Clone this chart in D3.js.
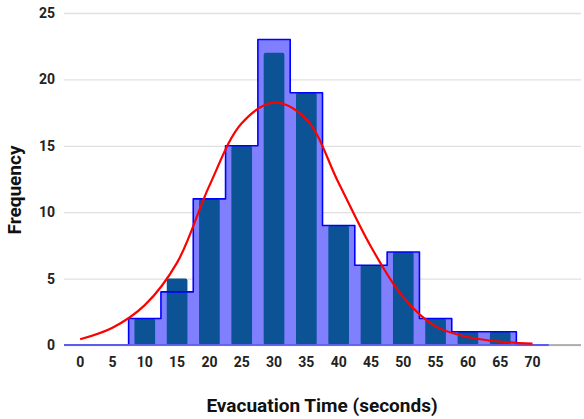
<!DOCTYPE html>
<html>
<head>
<meta charset="utf-8">
<script src="https://cdn.jsdelivr.net/npm/d3@7"></script>
<style>
  body { margin: 0; background: #fff; }
  text { font-family: Roboto, "Noto Sans", sans-serif; }
</style>
</head>
<body>
<svg class="chart"></svg>
<script>
// x categories (seconds), last slot is an empty band
var categories = [0, 5, 10, 15, 20, 25, 30, 35, 40, 45, 50, 55, 60, 65, 70, 75];
var tickLabels = ["0", "5", "10", "15", "20", "25", "30", "35", "40", "45", "50", "55", "60", "65", "70", ""];
var stepCats   = [0, 5, 10, 15, 20, 25, 30, 35, 40, 45, 50, 55, 60, 65, 70];
var stepValues = [0, 0, 2, 4, 11, 15, 23, 19, 9, 6, 7, 2, 1, 1, 0];
var barValues  = [0, 0, 2, 5, 11, 15, 22, 19, 9, 6, 7, 2, 1, 1, 0];
var curveValues = [0.43, 1.3, 3.0, 6.2, 12.0, 16.7, 18.25, 17.0, 12.2, 7.4, 3.6, 1.4, 0.6, 0.25, 0.1];
var yTicks = [0, 5, 10, 15, 20, 25];

let w = 584;
let h = 419;

var svg = d3.select(".chart")
            .attr("width", w)
            .attr("height", h);

var xS = d3.scaleBand()
         .domain(categories)
         .range([64, 581])
         .padding(0);

// narrower bars sharing the same step as xS
var xB = d3.scaleBand()
         .domain(categories)
         .range([64, 581])
         .paddingInner(0.36)
         .paddingOuter(0.18);

var yS = d3.scaleLinear()
         .domain([0, 25])
         .range([345, 13]);

// gridlines + y labels
var yAxis = svg.append("g")
   .attr("transform", "translate(64,0)")
   .call(d3.axisLeft(yS).tickValues(yTicks).tickSize(-517).tickPadding(9));
yAxis.select(".domain").remove();
yAxis.selectAll(".tick line").attr("stroke", "#e0e0e0").attr("stroke-width", 1.3);
yAxis.selectAll(".tick text")
     .attr("font-size", "14px")
     .attr("font-weight", "bold")
     .attr("fill", "#222");

// stepped area (histogram outline)
var pts = stepCats.map((c, i) => [xS(c), stepValues[i]]);
pts.push([xS(70) + xS.bandwidth(), 0]);

svg.append("path")
   .datum(pts)
   .attr("d", d3.area()
        .x(d => d[0])
        .y0(yS(0))
        .y1(d => yS(d[1]))
        .curve(d3.curveStepAfter))
   .attr("fill", "#8080ff");

// bars
var bars = barValues.map((v, i) => ({c: stepCats[i], v: v})).filter(d => d.v > 0);
svg.selectAll(".bar")
   .data(bars)
   .enter().append("rect")
   .attr("class", "bar")
   .attr("x", d => xB(d.c))
   .attr("y", d => yS(d.v))
   .attr("width", xB.bandwidth())
   .attr("height", d => yS(0) - yS(d.v))
   .attr("rx", 2)
   .attr("fill", "#0b5394");

svg.append("path")
   .datum(pts)
   .attr("d", d3.line()
        .x(d => d[0])
        .y(d => yS(d[1]))
        .curve(d3.curveStepAfter))
   .attr("fill", "none")
   .attr("stroke", "#0000ff")
   .attr("stroke-width", 1.6)
   .attr("stroke-linejoin", "round");

// baseline
svg.append("line")
   .attr("x1", 64).attr("x2", 581)
   .attr("y1", yS(0)).attr("y2", yS(0))
   .attr("stroke", "#9e9e9e")
   .attr("stroke-width", 1.3);
svg.append("line")
   .attr("x1", 64).attr("x2", xS(70) + xS.bandwidth())
   .attr("y1", yS(0)).attr("y2", yS(0))
   .attr("stroke", "#5050ff")
   .attr("stroke-width", 1.3);

// fitted curve
svg.append("path")
   .datum(curveValues)
   .attr("d", d3.line()
        .x((d, i) => xS(stepCats[i]) + xS.bandwidth() / 2)
        .y(d => yS(d))
        .curve(d3.curveCatmullRom.alpha(0.5)))
   .attr("fill", "none")
   .attr("stroke", "#ff0000")
   .attr("stroke-width", 2.2);

// x labels
var xAxis = svg.append("g")
   .attr("transform", "translate(0," + yS(0) + ")")
   .call(d3.axisBottom(xS).tickSize(0).tickPadding(12).tickFormat((d, i) => tickLabels[i]));
xAxis.select(".domain").remove();
xAxis.selectAll(".tick text")
     .attr("font-size", "14px")
     .attr("font-weight", "bold")
     .attr("fill", "#222");

svg.append("text")
   .attr("x", 322)
   .attr("y", 412)
   .attr("text-anchor", "middle")
   .attr("font-size", "19px")
   .attr("font-weight", "bold")
   .attr("fill", "#111")
   .text("Evacuation Time (seconds)");

svg.append("text")
   .attr("transform", "translate(21,190) rotate(-90)")
   .attr("text-anchor", "middle")
   .attr("font-size", "19px")
   .attr("font-weight", "bold")
   .attr("fill", "#111")
   .text("Frequency");
</script>
</body>
</html>
